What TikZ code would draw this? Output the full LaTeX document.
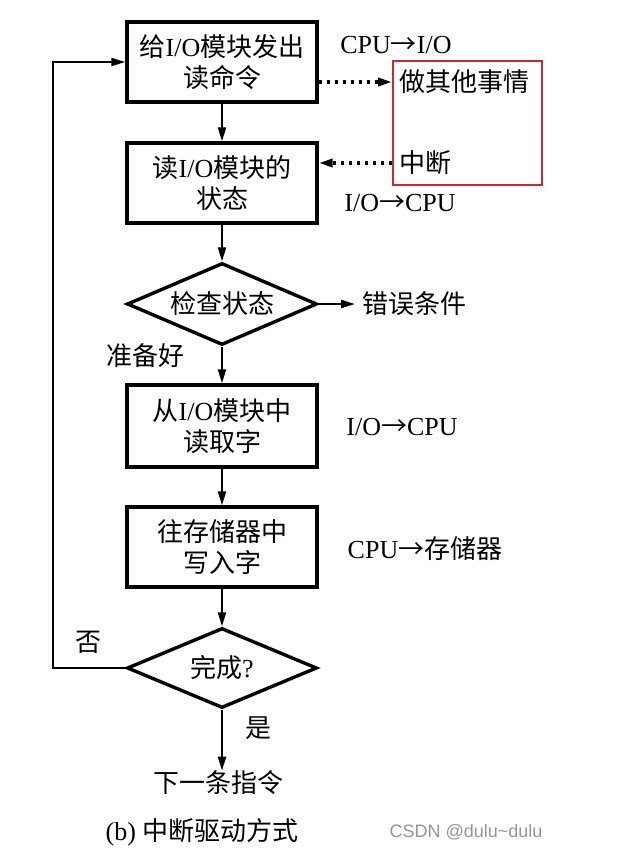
\documentclass[tikz,border=0pt]{standalone}
\usepackage{fontspec}
\setmainfont{Liberation Serif}
\newfontfamily\cj{Noto Sans CJK SC}
\newfontfamily\wmark{Liberation Sans}
\newcommand{\zh}[1]{{\cj #1}}
\usetikzlibrary{arrows.meta,shapes.geometric,calc}
\begin{document}
\begin{tikzpicture}[x=1pt,y=-1pt,
  every node/.style={font=\fontsize{26}{31}\selectfont, text=black},
  procbox/.style={draw, line width=3.4pt, minimum width=190pt, minimum height=80pt, align=center, inner sep=0pt},
  decide/.style={draw, diamond, line width=3.4pt, minimum width=190pt, minimum height=82pt, aspect=2.3, inner sep=0pt, align=center},
  arr/.style={line width=2.2pt, -{Triangle[length=14pt,width=8pt]}},
  dotarr/.style={line width=3.4pt, dash pattern=on 3pt off 5pt, -{Triangle[length=14pt,width=8pt]}},
  lbl/.style={inner sep=0pt}]
\useasboundingbox (0,0) rectangle (625,855);
\fill[white] (0,0) rectangle (625,855);

\node[procbox] (b1) at (222,62) {\zh{给}I/O\zh{模块发出}\\\zh{读命令}};
\node[procbox] (b2) at (222,183) {\zh{读}I/O\zh{模块的}\\\zh{状态}};
\node[decide] (d1) at (222,304) {\zh{检查状态}};
\node[procbox, minimum height=82pt] (b3) at (222,426) {\zh{从}I/O\zh{模块中}\\\zh{读取字}};
\node[procbox] (b4) at (222,547) {\zh{往存储器中}\\\zh{写入字}};
\node[decide, minimum height=80pt] (d2) at (222,668) {\zh{完成}?};
\node[lbl] (nx) at (218,783) {\zh{下一条指令}};

% red box with texts
\node[draw={rgb,255:red,204;green,40;blue,50}, line width=1.8pt, minimum width=149pt, minimum height=124pt, inner sep=0pt] (rb) at (467.5,123) {};
\node[anchor=west, inner xsep=7pt, inner ysep=0pt] (t1) at (rb.west |- 0,82) {\zh{做其他事情}};
\node[anchor=west, inner xsep=7pt, inner ysep=0pt] (t2) at (rb.west |- 0,163) {\zh{中断}};

% side labels
\node[lbl] (l1) at (396,45) {CPU\zh{→}I/O};
\node[lbl] (l2) at (400,203) {I/O\zh{→}CPU};
\node[lbl, anchor=west, inner xsep=7pt] (err) at (355,304) {\zh{错误条件}};
\node[lbl] (rdy) at (145,356) {\zh{准备好}};
\node[lbl] (l3) at (402,427) {I/O\zh{→}CPU};
\node[lbl] (l4) at (425,549) {CPU\zh{→存储器}};
\node[lbl] (no) at (88,642) {\zh{否}};
\node[lbl] (yes) at (258,728) {\zh{是}};
\node[lbl] (cap) at (202,832) {(b) \zh{中断驱动方式}};
\node[lbl, font=\wmark\fontsize{18}{20}\selectfont, text={rgb,255:red,150;green,150;blue,150}] (wm) at (466,832) {CSDN @dulu\textasciitilde dulu};

% connectors
\draw[arr] (b1) -- (b2);
\draw[arr] (b2) -- (d1);
\draw[arr] (d1) -- (b3);
\draw[arr] (b3) -- (b4);
\draw[arr] (b4) -- (d2);
\draw[arr] (d2.south) -- (d2.south |- nx.north);
\draw[arr] (d1.east) -- (err.west);
\coordinate (lp) at (53,668);
\draw[arr] (d2.west) -- (lp) |- (b1.west);
\draw[dotarr] (b1.east |- t1.west) -- (t1.west);
\draw[dotarr] (t2.west) -- (b2.east |- t2.west);
\end{tikzpicture}
\end{document}
